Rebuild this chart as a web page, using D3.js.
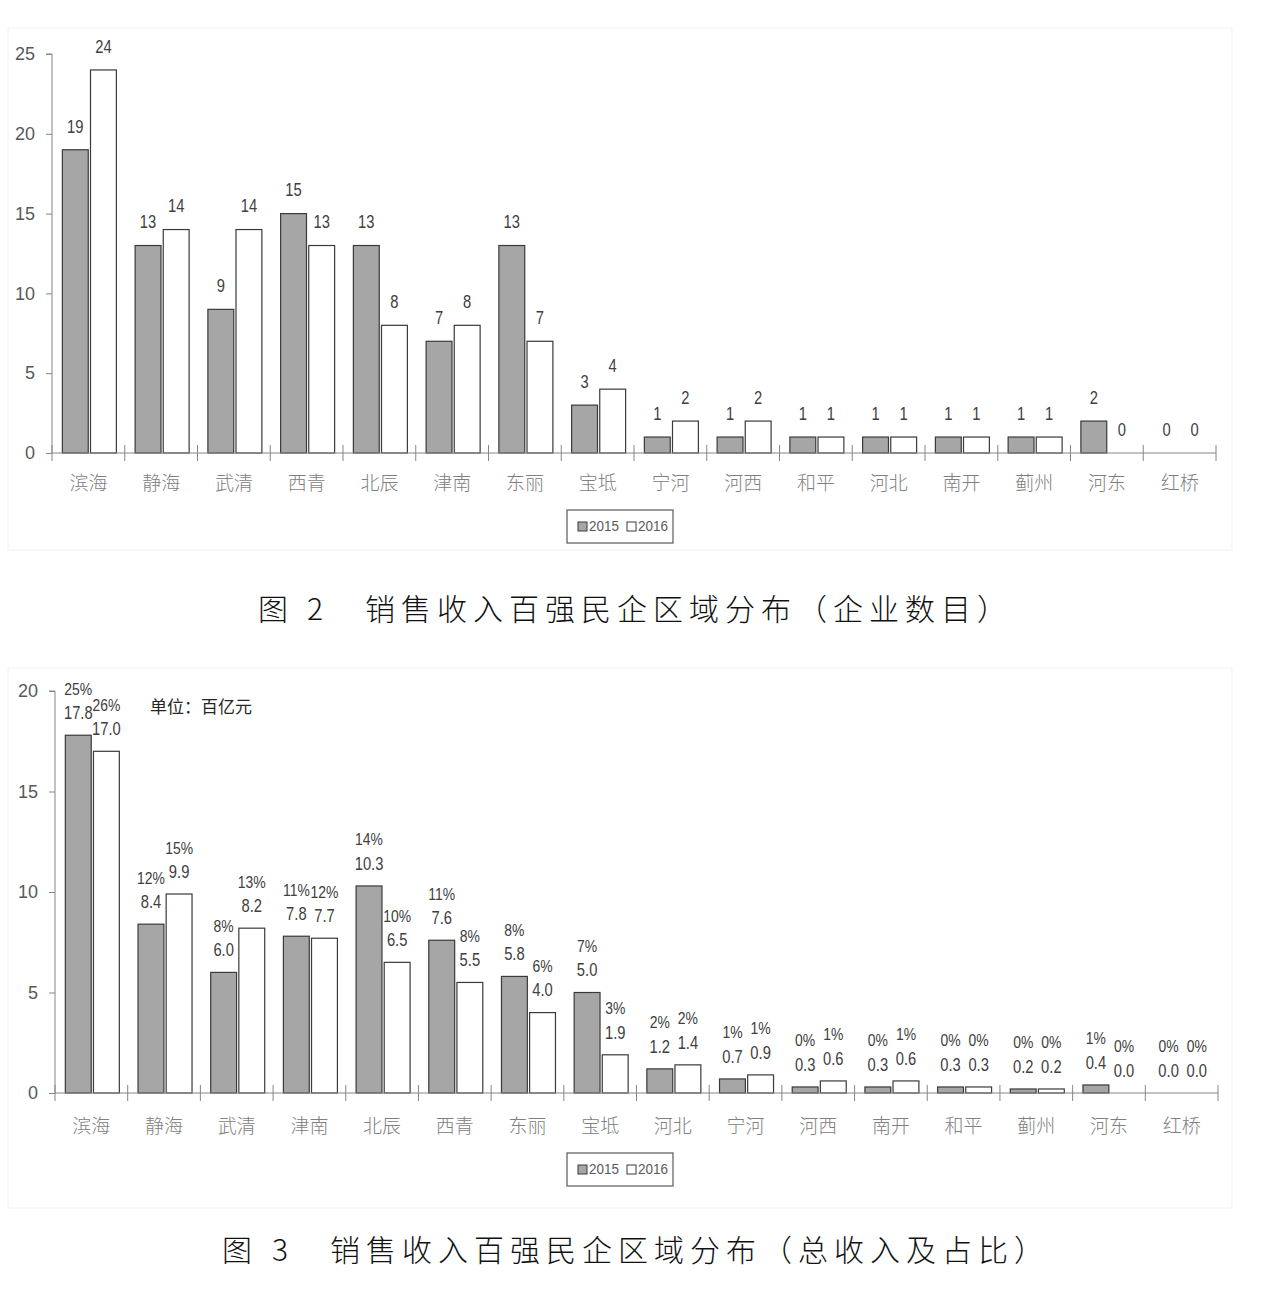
<!DOCTYPE html>
<html>
<head>
<meta charset="utf-8">
<script src="https://cdn.jsdelivr.net/npm/d3@7"></script>
<style>
  body { margin: 0; background: #fff; }
  svg { display: block; }
  .num { font-family: 'Liberation Sans', 'Noto Sans', sans-serif; }
  .cjk { font-family: 'Noto Sans CJK SC', sans-serif; }
</style>
</head>
<body>
<div id="chart"></div>
<script>
const series_names = ['2015', '2016']

// 图2 企业数目
const regions_count = ['滨海','静海','武清','西青','北辰','津南','东丽','宝坻','宁河','河西','和平','河北','南开','蓟州','河东','红桥']
const count_2015 = [19, 13, 9, 15, 13, 7, 13, 3, 1, 1, 1, 1, 1, 1, 2, 0]
const count_2016 = [24, 14, 14, 13, 8, 8, 7, 4, 2, 2, 1, 1, 1, 1, 0, 0]
const count_ticks = [0, 5, 10, 15, 20, 25]

// 图3 总收入及占比
const regions_rev = ['滨海','静海','武清','津南','北辰','西青','东丽','宝坻','河北','宁河','河西','南开','和平','蓟州','河东','红桥']
const rev_2015 = [17.8, 8.4, 6.0, 7.8, 10.3, 7.6, 5.8, 5.0, 1.2, 0.7, 0.3, 0.3, 0.3, 0.2, 0.4, 0.0]
const rev_2016 = [17.0, 9.9, 8.2, 7.7, 6.5, 5.5, 4.0, 1.9, 1.4, 0.9, 0.6, 0.6, 0.3, 0.2, 0.0, 0.0]
const pct_2015 = [25, 12, 8, 11, 14, 11, 8, 7, 2, 1, 0, 0, 0, 0, 1, 0]
const pct_2016 = [26, 15, 13, 12, 10, 8, 6, 3, 2, 1, 1, 1, 0, 0, 0, 0]
const rev_ticks = [0, 5, 10, 15, 20]

const fills = {'2015': '#a6a6a6', '2016': '#ffffff'}
const axis_color = '#868686'
const squeeze = 0.82   // narrow the label digits a bit, like the Calibri of the original

const svg = d3.select('#chart').append('svg')
	.attr('width', 1280).attr('height', 1300)

function draw_chart(opt) {
	const g = svg.append('g')

	// faint frame of the pasted chart area
	g.append('rect')
		.attr('x', opt.frame[0]).attr('y', opt.frame[1])
		.attr('width', opt.frame[2]).attr('height', opt.frame[3])
		.attr('fill', 'none').attr('stroke', '#f1f1f1')

	const y = d3.scaleLinear().domain(opt.y_domain).range([opt.bottom, opt.top])
	const x0 = d3.scaleBand().domain(opt.cats).range([opt.left, opt.right])
	const bw = x0.bandwidth()
	const x1 = d3.scaleBand().domain(series_names).range([bw / 2 - 26, bw / 2 + 28]).paddingInner(0.08)

	// y axis
	const ya = g.append('g')
		.attr('class', 'num')
		.attr('transform', 'translate(' + opt.left + ',0)')
		.call(d3.axisLeft(y).tickValues(opt.ticks).tickSize(6).tickPadding(11))
	ya.selectAll('path, line').attr('stroke', axis_color)
	ya.select('.domain').attr('d', 'M0,' + opt.bottom + 'V' + opt.top + 'H-6')
	ya.selectAll('text').attr('fill', '#595959').style('font-size', '18px')

	// bars
	const rows = opt.cats.map((c, i) => ({cat: c, i: i}))
	const groups = g.selectAll('.cat').data(rows).enter().append('g')
		.attr('transform', d => 'translate(' + x0(d.cat) + ',0)')
	series_names.forEach((s, k) => {
		const vals = opt.values[k]
		const cx = x1(s) + x1.bandwidth() / 2
		groups.append('rect')
			.attr('x', x1(s))
			.attr('width', x1.bandwidth())
			.attr('y', d => y(vals[d.i]))
			.attr('height', d => opt.bottom - y(vals[d.i]))
			.attr('fill', fills[s])
			.attr('stroke', '#3a3a3a')
			.attr('stroke-width', 1.2)
			.style('display', d => vals[d.i] > 0 ? null : 'none')
		groups.append('text')
			.attr('class', 'num')
			.attr('transform', d => 'translate(' + cx + ',' + (y(vals[d.i]) - opt.label_gap) + ') scale(' + squeeze + ',1)')
			.attr('text-anchor', 'middle')
			.attr('dominant-baseline', 'middle')
			.attr('fill', '#404040')
			.style('font-size', '18px')
			.text(d => opt.fmt(vals[d.i]))
		if (opt.pcts) {
			groups.append('text')
				.attr('class', 'num')
				.attr('transform', d => 'translate(' + cx + ',' + (y(vals[d.i]) - opt.label_gap - 24) + ') scale(' + squeeze + ',1)')
				.attr('text-anchor', 'middle')
				.attr('dominant-baseline', 'middle')
				.attr('fill', '#404040')
				.style('font-size', '17px')
				.text(d => opt.pcts[k][d.i] + '%')
		}
	})

	// x axis with ticks between categories
	g.append('line')
		.attr('x1', opt.left).attr('x2', opt.right)
		.attr('y1', opt.bottom).attr('y2', opt.bottom)
		.attr('stroke', axis_color).attr('stroke-width', 1.2)
	const bounds = opt.cats.map(c => x0(c)).concat([opt.right])
	g.selectAll('.xtick').data(bounds).enter().append('line')
		.attr('x1', d => d).attr('x2', d => d)
		.attr('y1', opt.bottom - 8).attr('y2', opt.bottom + 8)
		.attr('stroke', axis_color)
	const xa = g.append('g')
		.attr('class', 'cjk')
		.attr('transform', 'translate(0,' + opt.bottom + ')')
		.call(d3.axisBottom(x0).tickSize(0).tickPadding(opt.cat_pad))
	xa.select('.domain').remove()
	xa.selectAll('text').attr('fill', '#808080').style('font-size', '19px').style('font-weight', 300)

	// legend
	const lg = g.append('g').attr('transform', 'translate(' + opt.legend[0] + ',' + opt.legend[1] + ')')
	lg.append('rect').attr('width', 106).attr('height', 33)
		.attr('fill', '#fff').attr('stroke', '#595959').attr('stroke-width', 1.2)
	series_names.forEach((s, k) => {
		const ox = 11 + k * 49
		lg.append('rect').attr('x', ox).attr('y', 12).attr('width', 9).attr('height', 9)
			.attr('fill', fills[s]).attr('stroke', '#3a3a3a')
		lg.append('text').attr('class', 'num')
			.attr('transform', 'translate(' + (ox + 11) + ',17) scale(0.9,1)')
			.attr('dominant-baseline', 'middle')
			.attr('fill', '#595959').style('font-size', '15px')
			.text(s)
	})

	// caption
	const cap = svg.append('text')
		.attr('class', 'cjk')
		.attr('y', opt.caption_y)
		.attr('dominant-baseline', 'middle')
		.attr('fill', '#111')
		.style('font-size', '30px')
		.style('font-weight', 300)
	cap.append('tspan').attr('x', opt.caption_x[0]).text('图')
	cap.append('tspan').attr('x', opt.caption_x[1]).text(opt.caption_no)
	cap.append('tspan').attr('x', opt.caption_x[2]).style('letter-spacing', opt.caption_ls + 'px').text(opt.caption)
	return g
}

draw_chart({
	cats: regions_count,
	values: [count_2015, count_2016],
	y_domain: [0, 25], ticks: count_ticks,
	top: 54, bottom: 453, left: 52, right: 1216,
	label_gap: 22, cat_pad: 24,
	fmt: d3.format('d'),
	frame: [8, 28, 1224, 522],
	legend: [567, 510],
	caption_y: 612, caption_x: [258, 307, 365], caption_no: '2',
	caption: '销售收入百强民企区域分布（企业数目）', caption_ls: 6
})

const chart2 = draw_chart({
	cats: regions_rev,
	values: [rev_2015, rev_2016],
	pcts: [pct_2015, pct_2016],
	y_domain: [0, 20], ticks: rev_ticks,
	top: 691, bottom: 1093, left: 55, right: 1218,
	label_gap: 21, cat_pad: 27,
	fmt: d3.format('.1f'),
	frame: [8, 668, 1224, 540],
	legend: [567, 1153],
	caption_y: 1253, caption_x: [222, 272, 330], caption_no: '3',
	caption: '销售收入百强民企区域分布（总收入及占比）', caption_ls: 6
})

chart2.append('text')
	.attr('class', 'cjk')
	.attr('x', 150).attr('y', 708)
	.attr('dominant-baseline', 'middle')
	.attr('fill', '#262626')
	.style('font-size', '17px')
	.text('单位：百亿元')
</script>
</body>
</html>
